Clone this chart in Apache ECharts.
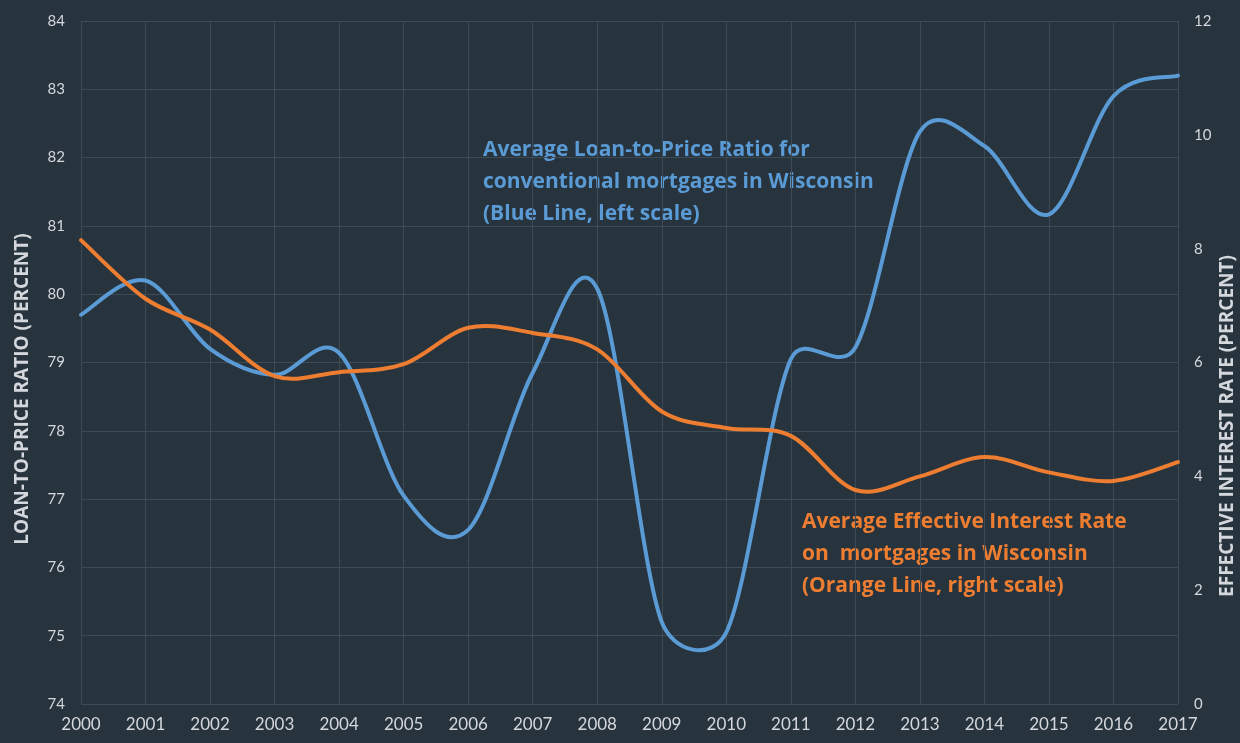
<!DOCTYPE html>
<html lang="en">
<head>
    <meta charset="UTF-8">
    <title>Wisconsin mortgages</title>
    <script src="https://cdn.jsdelivr.net/npm/echarts@6/dist/echarts.min.js"></script>
    <style>
        html, body { margin: 0; padding: 0; background: #27333d; }
        #chart { width: 1240px; height: 743px; }
    </style>
</head>
<body>
<div id="chart"></div>
<script>
    // years on the x axis
    var years = ['2000', '2001', '2002', '2003', '2004', '2005', '2006', '2007', '2008',
        '2009', '2010', '2011', '2012', '2013', '2014', '2015', '2016', '2017']
    // loan-to-price ratio, left scale
    var loanToPrice = [79.7, 80.2, 79.2, 78.82, 79.14, 77.05, 76.55, 78.85, 80.08,
        75.2, 75.05, 79.05, 79.22, 82.38, 82.17, 81.17, 82.9, 83.2]
    // effective interest rate, right scale
    var interestRate = [8.15, 7.12, 6.58, 5.76, 5.83, 5.97, 6.61, 6.52, 6.23,
        5.14, 4.85, 4.71, 3.76, 4.0, 4.34, 4.07, 3.92, 4.25]

    var textColor = '#d4d8dc'
    var font = 'Lato, "Open Sans", sans-serif'
    var labelFont = '"Open Sans", Lato, sans-serif'

    // smoothed curve like the spreadsheet one: bezier with 1/6 tangents,
    // control arm capped at half the segment length
    function smoothPath(pts) {
        var n = pts.length
        var d = 'M' + pts[0][0] + ' ' + pts[0][1]
        function dist(a, b) {
            return Math.sqrt((a[0] - b[0]) * (a[0] - b[0]) + (a[1] - b[1]) * (a[1] - b[1]))
        }
        for (var i = 0; i < n - 1; i++) {
            var p0 = pts[Math.max(i - 1, 0)]
            var p1 = pts[i]
            var p2 = pts[i + 1]
            var p3 = pts[Math.min(i + 2, n - 1)]
            var d12 = dist(p1, p2)
            var d02 = dist(p0, p2)
            var d13 = dist(p1, p3)
            var f0 = 1 / 6, f1 = 1 / 6
            if (d02 > 0 && d02 / 6 > d12 / 2) f0 = d12 / 2 / d02
            if (d13 > 0 && d13 / 6 > d12 / 2) f1 = d12 / 2 / d13
            var c1x = p1[0] + f0 * (p2[0] - p0[0])
            var c1y = p1[1] + f0 * (p2[1] - p0[1])
            var c2x = p2[0] - f1 * (p3[0] - p1[0])
            var c2y = p2[1] - f1 * (p3[1] - p1[1])
            d += ' C' + c1x + ' ' + c1y + ' ' + c2x + ' ' + c2y + ' ' + p2[0] + ' ' + p2[1]
        }
        return d
    }

    function curveSeries(name, values, axisIndex, color) {
        return {
            name: name,
            type: 'custom',
            yAxisIndex: axisIndex,
            data: values.map(function (v, i) { return [i, v] }),
            encode: { x: 0, y: 1 },
            clip: false,
            renderItem: function (params, api) {
                if (params.dataIndex !== 0) return null
                var pts = values.map(function (v, i) { return api.coord([i, v]) })
                return {
                    type: 'path',
                    shape: { pathData: smoothPath(pts) },
                    style: {
                        fill: null,
                        stroke: color,
                        lineWidth: 4,
                        lineCap: 'round',
                        lineJoin: 'round'
                    }
                }
            }
        }
    }

    var chart = echarts.init(document.getElementById('chart'))
    var option = {
        backgroundColor: '#27333d',
        textStyle: { fontFamily: font },
        animation: false,
        grid: { left: 81, right: 62, top: 21, bottom: 39 },
        xAxis: {
            type: 'category',
            data: years,
            boundaryGap: false,
            axisLine: { show: false },
            axisTick: { show: false },
            axisLabel: { color: textColor, fontSize: 17, margin: 12 },
            splitLine: { show: true, lineStyle: { color: '#3d4b56', width: 1 } }
        },
        yAxis: [
            {
                type: 'value',
                min: 74,
                max: 84,
                interval: 1,
                axisLine: { show: false },
                axisTick: { show: false },
                axisLabel: { color: textColor, fontSize: 15, margin: 16 },
                splitLine: { lineStyle: { color: '#3d4b56', width: 1 } }
            },
            {
                type: 'value',
                min: 0,
                max: 12,
                interval: 2,
                axisLine: { show: false },
                axisTick: { show: false },
                axisLabel: { color: textColor, fontSize: 15, margin: 16 },
                splitLine: { show: false }
            }
        ],
        series: [
            curveSeries('Loan-to-Price Ratio', loanToPrice, 0, '#5b9bd5'),
            curveSeries('Effective Interest Rate', interestRate, 1, '#ed7d31')
        ],
        graphic: [
            {
                type: 'text',
                left: 483,
                top: 134,
                style: {
                    text: 'Average Loan-to-Price Ratio for\nconventional mortgages in Wisconsin\n(Blue Line, left scale)',
                    fill: '#5b9bd5',
                    font: 'bold 21px ' + labelFont,
                    lineHeight: 32
                }
            },
            {
                type: 'text',
                left: 802,
                top: 506,
                style: {
                    text: 'Average Effective Interest Rate\non  mortgages in Wisconsin\n(Orange Line, right scale)',
                    fill: '#ed7d31',
                    font: 'bold 21px ' + labelFont,
                    lineHeight: 32
                }
            },
            {
                type: 'text',
                x: 23,
                y: 389,
                rotation: Math.PI / 2,
                style: {
                    text: 'LOAN-TO-PRICE RATIO (PERCENT)',
                    fill: textColor,
                    font: 'bold 19px ' + labelFont,
                    align: 'center',
                    verticalAlign: 'middle'
                }
            },
            {
                type: 'text',
                x: 1228,
                y: 426,
                rotation: Math.PI / 2,
                style: {
                    text: 'EFFECTIVE INTEREST RATE (PERCENT)',
                    fill: textColor,
                    font: 'bold 19px ' + labelFont,
                    align: 'center',
                    verticalAlign: 'middle'
                }
            }
        ]
    }
    chart.setOption(option)
</script>
</body>
</html>
